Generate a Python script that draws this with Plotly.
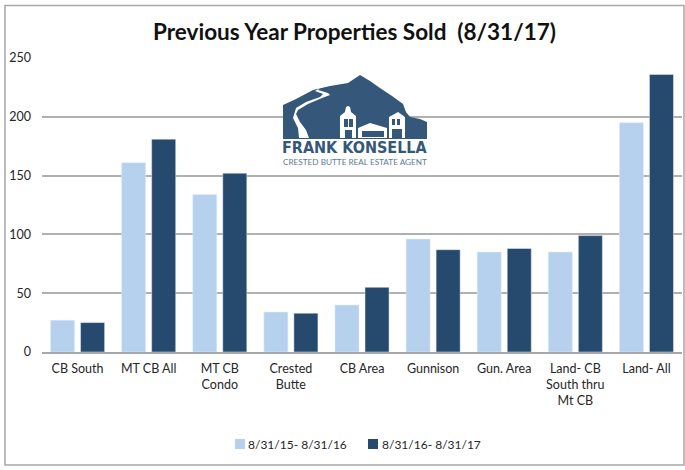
import plotly.graph_objects as go

categories = ["CB South", "MT CB All", "MT CB<br>Condo", "Crested<br>Butte", "CB Area",
              "Gunnison", "Gun. Area", "Land- CB<br>South thru<br>Mt CB", "Land- All"]
prev_values = [27, 161, 134, 34, 40, 96, 85, 85, 195]
curr_values = [25, 181, 152, 33, 55, 87, 88, 99, 236]
series_names = ["8/31/15- 8/31/16", "8/31/16- 8/31/17"]
tick_values = [0, 50, 100, 150, 200, 250]

L, R, T, B = 42, 682, 58, 352
FONT = "Lato"
TXT = "#262626"
LIGHT, DARK = "#B5D1EE", "#264A6E"

def X(p): return (p - L) / (R - L)
def Y(p): return (B - p) / (B - T)
def path(pts, close=True):
    s = "M" + " L".join(f"{X(a):.4f},{Y(b):.4f}" for a, b in pts)
    return s + (" Z" if close else "")

LOGO = "#34577A"
mountain = [(283,105),(296,99),(313,90),(330,86),(348,83),(354,79),(360,75),(370,81),(380,88),
            (392,96),(403,104),(406,112),(410,117),(420,119),(427,122),(427,139),(283,139)]
road = [(320,88),(318,90),(328,93),(330,95),(322,98),(308,104),(298,110),(296,114),(300,122),
        (306,130),(309,138),(299,138),(298,128),(293,118),(296,108),(306,102),(320,97),(323,94),(315,91)]
b1 = [(340,138),(340,116),(345,112),(346,107),(348,106),(350,107),(351,112),(356,116),(356,138)]
b2 = [(358,128),(370,123),(387,128),(387,138),(358,138)]
b3 = [(389,138),(389,117),(398,112),(405,117),(405,138)]
white_shapes = [road, b1, b2, b3]
windows = [[(344,119),(348,119),(348,127),(344,127)], [(349,119),(353,119),(353,127),(349,127)],
           [(345,130),(352,130),(352,138),(345,138)], [(362,131),(384,131),(384,137),(362,137)],
           [(392,119),(395,119),(395,125),(392,125)], [(397,119),(400,119),(400,125),(397,125)],
           [(392,129),(402,129),(402,138),(392,138)]]

shapes = [dict(type="rect", xref="paper", yref="paper", x0=X(5), x1=X(684), y0=Y(5.5), y1=Y(465),
               line=dict(color="#A8A8A8", width=1.5), fillcolor="rgba(0,0,0,0)", layer="below")]
shapes.append(dict(type="rect", xref="paper", yref="paper", x0=X(282), x1=X(429), y0=Y(139), y1=Y(168),
                   line_width=0, fillcolor="white", layer="above"))
shapes.append(dict(type="path", path=path(mountain), xref="paper", yref="paper",
                   fillcolor=LOGO, line_width=0, layer="above"))
for s in white_shapes:
    shapes.append(dict(type="path", path=path(s), xref="paper", yref="paper",
                       fillcolor="white", line_width=0, layer="above"))
for s in windows:
    shapes.append(dict(type="path", path=path(s), xref="paper", yref="paper",
                       fillcolor=LOGO, line_width=0, layer="above"))
# legend swatches
for x0, col in [(235, LIGHT), (368, DARK)]:
    shapes.append(dict(type="rect", xref="paper", yref="paper", x0=X(x0), x1=X(x0 + 10), y0=Y(439), y1=Y(449),
                       line_width=0, fillcolor=col, layer="above"))

annotations = [
    dict(text="<b>Previous Year Properties Sold  (8/31/17)</b>", x=X(354.5), y=Y(31), xref="paper", yref="paper",
         showarrow=False, font=dict(family=FONT, size=22.5, color="#111111"), xanchor="center", yanchor="middle"),
    dict(text="<b>FRANK KONSELLA</b>", x=X(355), y=Y(147), xref="paper", yref="paper", showarrow=False,
         font=dict(family="DejaVu Sans Condensed, DejaVu Sans", size=16, color=LOGO), xanchor="center", yanchor="middle"),
    dict(text="CRESTED BUTTE REAL ESTATE AGENT", x=X(355), y=Y(161.5), xref="paper", yref="paper", showarrow=False,
         font=dict(family=FONT, size=8.2, color="#5E7A96"), xanchor="center", yanchor="middle"),
    dict(text=series_names[0], x=X(247), y=Y(444), xref="paper", yref="paper", showarrow=False,
         font=dict(family=FONT, size=12, color=TXT), xanchor="left", yanchor="middle", xshift=-1),
    dict(text=series_names[1], x=X(381), y=Y(444), xref="paper", yref="paper", showarrow=False,
         font=dict(family=FONT, size=12, color=TXT), xanchor="left", yanchor="middle", xshift=-1),
]

fig = go.Figure()
fig.add_bar(x=categories, y=prev_values, name=series_names[0], marker_color=LIGHT)
fig.add_bar(x=categories, y=curr_values, name=series_names[1], marker_color=DARK)
fig.update_layout(
    width=685, height=470, autosize=False,
    margin=dict(l=L, r=685 - R, t=T, b=470 - B, pad=0),
    paper_bgcolor="white", plot_bgcolor="white",
    barmode="group", bargap=0.155, bargroupgap=0.2,
    font=dict(family=FONT, size=12.5, color=TXT),
    shapes=shapes, annotations=annotations,
    showlegend=False,
    xaxis=dict(showgrid=False, showline=True, linecolor="#A8A8A8", linewidth=1.5, ticks="",
               tickfont=dict(size=12.5, color=TXT), tickangle=0, ticklabelstandoff=4),
    yaxis=dict(range=[0, 250], tickvals=tick_values, showgrid=True, gridcolor="#B0B0B0", gridwidth=1.5,
               zeroline=False, showline=False, ticks="", tickfont=dict(size=12.5, color=TXT),
               ticklabelstandoff=10),
)
fig.write_html("out.html", post_script="document.body.style.margin='0';", config=dict(displayModeBar=False))
